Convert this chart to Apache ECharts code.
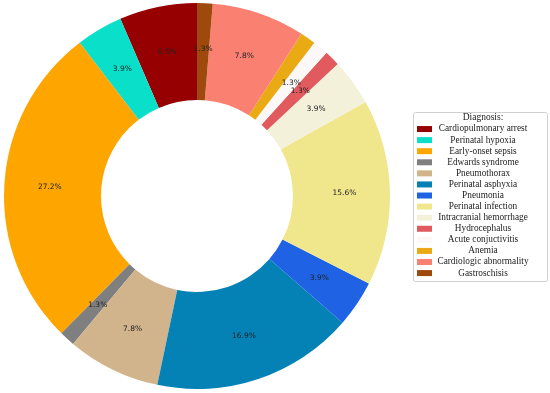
<!DOCTYPE html>
<html>
<head>
<meta charset="utf-8">
<script src="https://cdn.jsdelivr.net/npm/echarts@6/dist/echarts.min.js"></script>
<style>html,body{margin:0;padding:0;background:#fff;}#c{width:550px;height:393px;}</style>
</head>
<body>
<div id="c"></div>
<script>
const categories = ["Cardiopulmonary arrest","Perinatal hypoxia","Early-onset sepsis","Edwards syndrome","Pneumothorax","Perinatal asphyxia","Pneumonia","Perinatal infection","Intracranial hemorrhage","Hydrocephalus","Acute conjuctivitis","Anemia","Cardiologic abnormality","Gastroschisis"];
const percents = [6.5,3.9,27.2,1.3,7.8,16.9,3.9,15.6,3.9,1.3,1.3,1.3,7.8,1.3];
const colors = ["#970000","#0ADFCA","#FFA500","#7F7F7F","#D2B48C","#0482B6","#1F63E4","#F0E68C","#F4F1DA","#E15A5E","#FDF8F8","#E9AA14","#FA8072","#9E4A0C"];
const legendTitle = "Diagnosis:";

const chart = echarts.init(document.getElementById('c'), null, {renderer:'canvas'});
chart.setOption({
  animation: false,
  graphic: [
    {type:'rect', shape:{x:413.5,y:112.5,width:134,height:169,r:2}, style:{fill:'#fff',stroke:'#d0d0d0',lineWidth:1}, z:0},
    {type:'text', x:483, y:117.5, style:{text:legendTitle, fill:'#222', font:'9.5px "Liberation Serif"', textAlign:'center', textVerticalAlign:'middle'}, z:5}
  ],
  legend: {
    orient:'vertical', left:417, top:123.5, itemWidth:15, itemHeight:6, itemGap:0,
    icon:'rect', selectedMode:false, padding:0,
    data: categories,
    formatter: n => '{a|' + n + '}',
    textStyle: {
      color:'#222', fontFamily:'Liberation Serif', fontSize:9.3,
      rich: {a:{width:92, align:'center', height:11.08, lineHeight:11.08, fontFamily:'Liberation Serif', fontSize:9.3, color:'#222'}}
    }
  },
  series: [{
    type:'pie', center:[197,196], radius:[96,193], startAngle:90, clockwise:false,
    avoidLabelOverlap:false, silent:true,
    itemStyle:{borderWidth:0},
    label:{show:true, position:'inside', formatter: p => p.value.toFixed(1) + '%', color:'#222', fontFamily:'DejaVu Sans', fontSize:7.5},
    labelLine:{show:false},
    emphasis:{disabled:true},
    data: categories.map((n,i)=>({name:n, value:percents[i], itemStyle:{color:colors[i]}}))
  }]
});
</script>
</body>
</html>
